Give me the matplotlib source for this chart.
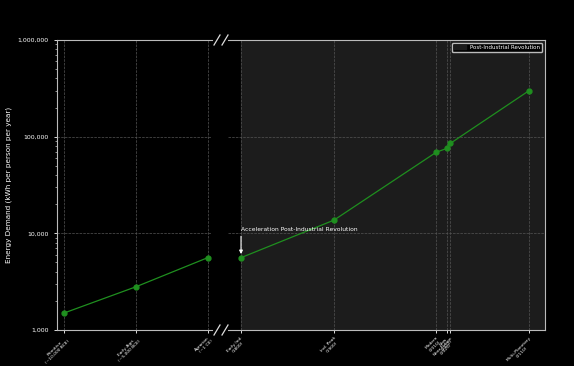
import matplotlib
matplotlib.use("Agg")
import matplotlib.pyplot as plt
from matplotlib.ticker import FuncFormatter, LogLocator

left_years = [-10000, -5000, 1]
left_values = [1500, 2800, 5600]
left_labels = ["Primitive\n(~10,000 BCE)", "Early Agri.\n(~5,000 BCE)", "Agrarian\n(~1 CE)"]

right_years = [1800, 1900, 2010, 2022, 2025, 2110]
right_values = [5600, 13700, 69000, 76000, 85000, 300000]
right_labels = ["Early Ind.\n(1800)", "Ind. Peak\n(1900)", "Modern\n(2010)", "Now\n(2022)",
                "Near-Future\n(2025)", "Multi-Planetary\n(2110)"]

line_color = "#1f8f1f"
fg = "white"

fig = plt.figure(figsize=(5.74, 3.66), dpi=100, facecolor="black")
W, H = 574, 366
axL = fig.add_axes([57 / W, 1 - 330 / H, (212 - 57) / W, (330 - 40) / H])
axR = fig.add_axes([228 / W, 1 - 330 / H, (545 - 228) / W, (330 - 40) / H], sharey=axL)

for ax in (axL, axR):
    ax.set_facecolor("black")
    ax.set_yscale("log")
    ax.set_ylim(1000, 1e6)
    ax.grid(True, which="major", color="#555555", linestyle="--", linewidth=0.5)
    for s in ax.spines.values():
        s.set_color("#bbbbbb")
        s.set_linewidth(0.8)
    ax.tick_params(colors=fg, labelsize=4.5, length=2.5, width=0.6)
    ax.tick_params(which="minor", colors=fg, length=1.5, width=0.4)

axL.plot(left_years, left_values, color=line_color, marker="o", markersize=3.5, linewidth=0.9)
axR.plot(right_years, right_values, color=line_color, marker="o", markersize=3.5, linewidth=0.9)

axL.set_xlim(-10500, 300)
axR.set_xlim(1786, 2127)

axR.axvspan(1800, 2127, color="#1c1c1c", zorder=0, label="Post-Industrial Revolution")

axL.set_xticks(left_years)
axL.set_xticklabels(left_labels, rotation=45, ha="right", fontsize=3.2, color=fg,
                    rotation_mode="anchor", multialignment="center")
axR.set_xticks(right_years)
axR.set_xticklabels(right_labels, rotation=45, ha="right", fontsize=3.2, color=fg,
                    rotation_mode="anchor", multialignment="center")
axL.tick_params(axis="x", pad=1.5)
axR.tick_params(axis="x", pad=1.5)

axL.yaxis.set_major_formatter(FuncFormatter(lambda v, p: f"{int(round(v)):,}"))
axL.yaxis.set_major_locator(LogLocator(base=10))
axL.set_ylabel("Energy Demand (kWh per person per year)", color=fg, fontsize=5.2)

axL.spines["right"].set_visible(False)
axR.spines["left"].set_visible(False)
axR.tick_params(axis="y", which="both", left=False, labelleft=False)

axR.annotate("Acceleration Post-Industrial Revolution", xy=(1800, 5900), xytext=(1800, 10300),
             color=fg, fontsize=4.3, ha="left", va="bottom",
             arrowprops=dict(arrowstyle="-|>", color=fg, lw=0.8, mutation_scale=5,
                             relpos=(0, 0), shrinkA=1, shrinkB=1))

leg = axR.legend(loc="upper right", fontsize=4, facecolor="black", edgecolor="#bbbbbb",
                 framealpha=1, borderpad=0.4, handlelength=2)
for t in leg.get_texts():
    t.set_color(fg)

# break markers
for xp in (217, 225):
    for yp in (40, 330):
        fig.add_artist(plt.Line2D([(xp - 3) / W, (xp + 3) / W], [1 - (yp + 5) / H, 1 - (yp - 5) / H],
                                  transform=fig.transFigure, color="#dddddd", linewidth=0.9))

fig.savefig("out.png", dpi=100, facecolor="black")
